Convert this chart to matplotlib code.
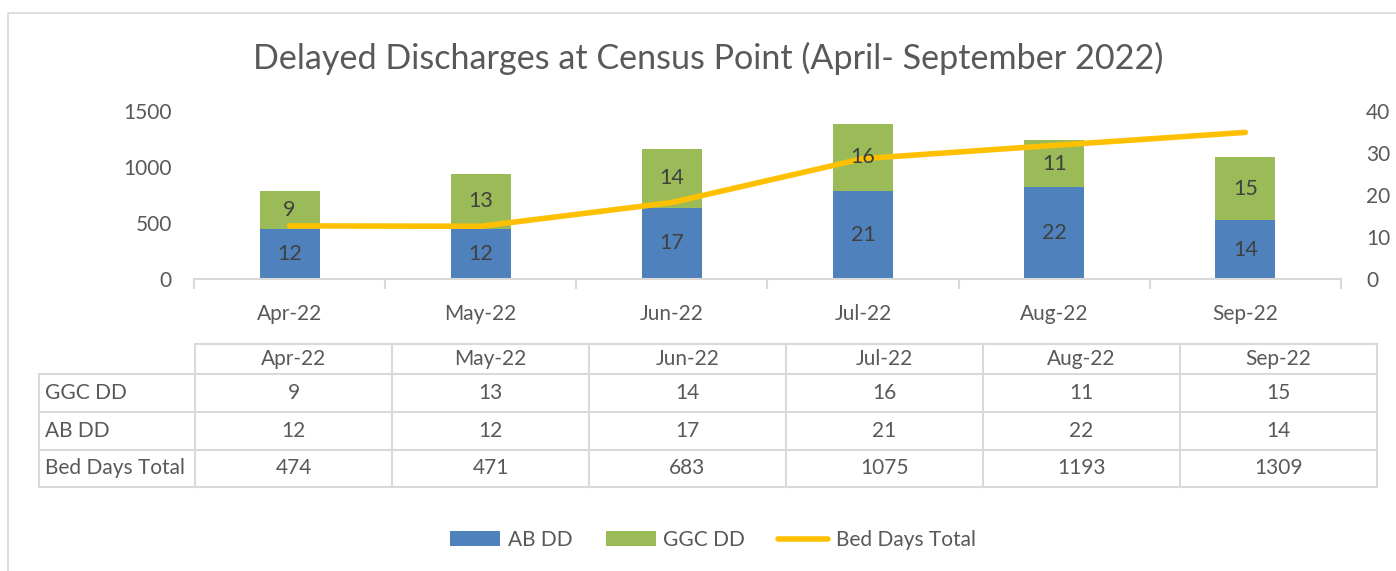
import matplotlib
matplotlib.use("Agg")
import matplotlib.pyplot as plt
from matplotlib.patches import Rectangle, Patch
from matplotlib.lines import Line2D

months = ["Apr-22", "May-22", "Jun-22", "Jul-22", "Aug-22", "Sep-22"]
ggc_dd = [9, 13, 14, 16, 11, 15]
ab_dd = [12, 12, 17, 21, 22, 14]
bed_days = [474, 471, 683, 1075, 1193, 1309]
left_ticks = [0, 500, 1000, 1500]
right_ticks = [0, 10, 20, 30, 40]
title = "Delayed Discharges at Census Point (April- September 2022)"

W, H = 1396, 571
BLUE = "#4F81BD"
GREEN = "#9BBB59"
GOLD = "#FFC000"
TXT = "#595959"
LBL = "#404040"
GRID = "#D9D9D9"
FONT = ["Lato", "DejaVu Sans"]
plt.rcParams['font.family'] = FONT

fig = plt.figure(figsize=(W / 100, H / 100), dpi=100)

def fx(x):
    return x / W

def fy(y):
    return 1 - y / H

PX = 0.72  # points per pixel at 100 dpi

# chart area border
fig.patches.append(Rectangle((fx(8), fy(620)), fx(1500), (620 - 13) / H,
                             transform=fig.transFigure, fill=False,
                             edgecolor=GRID, linewidth=1.2))

ax_l, ax_r, ax_t, ax_b = 194, 1341, 111, 279
ax = fig.add_axes([fx(ax_l), fy(ax_b), fx(ax_r - ax_l), (ax_b - ax_t) / H])
ax2 = ax.twinx()

x = list(range(len(months)))
bw = 0.314
ax.bar(x, ab_dd, width=bw, color=BLUE, zorder=2)
ax.bar(x, ggc_dd, width=bw, bottom=ab_dd, color=GREEN, zorder=2)
ax.set_ylim(0, 40)
ax.set_xlim(-0.5, len(months) - 0.5)

ax2.plot(x, bed_days, color=GOLD, linewidth=4.0, solid_capstyle='round',
         solid_joinstyle='round', zorder=3)
ax2.set_ylim(0, 1500)

# bar value labels above the line
for i in x:
    ax2.text(i, ab_dd[i] / 2, str(ab_dd[i]), transform=ax.transData,
             ha='center', va='center', fontsize=15.5, color=LBL, zorder=5)
    ax2.text(i, ab_dd[i] + ggc_dd[i] / 2, str(ggc_dd[i]), transform=ax.transData,
             ha='center', va='center', fontsize=15.5, color=LBL, zorder=5)

# axes styling
for a in (ax, ax2):
    for s in ("top", "left", "right"):
        a.spines[s].set_visible(False)
    a.spines["bottom"].set_color(GRID)
    a.spines["bottom"].set_linewidth(1.5)
ax2.spines["bottom"].set_visible(False)

ax.yaxis.tick_right()
ax.set_yticks(right_ticks)
ax.tick_params(axis='y', length=0, pad=25 * PX, labelsize=15, labelcolor=TXT)
ax2.yaxis.tick_left()
ax2.set_yticks(left_ticks)
ax2.tick_params(axis='y', length=0, pad=22 * PX, labelsize=15, labelcolor=TXT)

ax.set_xticks([i - 0.5 for i in range(len(months) + 1)])
ax.set_xticklabels([])
ax.tick_params(axis='x', which='major', direction='out', length=7, width=1.5, color=GRID)
ax.set_xticks(x, minor=True)
ax.set_xticklabels(months, minor=True)
ax.tick_params(axis='x', which='minor', length=0, pad=18, labelsize=15, labelcolor=TXT)

# title
fig.text(fx(708), fy(58), title, ha='center', va='center', fontsize=24.6, color=TXT)

# data table
col_l = 195
col_w = 197
row_lab_l = 39
rows_y = [344, 374, 412, 450, 487]
ncol = len(months)
col_r = col_l + col_w * ncol
lw = 1.5

def hline(x0, x1, y):
    fig.lines.append(Line2D([fx(x0), fx(x1)], [fy(y), fy(y)], transform=fig.transFigure,
                            color=GRID, linewidth=lw))

def vline(xp, y0, y1):
    fig.lines.append(Line2D([fx(xp), fx(xp)], [fy(y0), fy(y1)], transform=fig.transFigure,
                            color=GRID, linewidth=lw))

hline(col_l, col_r, rows_y[0])
for y in rows_y[1:]:
    hline(row_lab_l, col_r, y)
vline(row_lab_l, rows_y[1], rows_y[-1])
for j in range(ncol + 1):
    vline(col_l + j * col_w, rows_y[0], rows_y[-1])

row_names = ["GGC DD", "AB DD", "Bed Days Total"]
row_vals = [ggc_dd, ab_dd, bed_days]
for j, m in enumerate(months):
    cx = col_l + (j + 0.5) * col_w
    fig.text(fx(cx), fy((rows_y[0] + rows_y[1]) / 2), m, ha='center', va='center',
             fontsize=15, color=TXT)
for r, (name, vals) in enumerate(zip(row_names, row_vals)):
    cy = (rows_y[r + 1] + rows_y[r + 2]) / 2
    fig.text(fx(row_lab_l + 6), fy(cy), name, ha='left', va='center', fontsize=15, color=TXT)
    for j, v in enumerate(vals):
        cx = col_l + (j + 0.5) * col_w
        fig.text(fx(cx), fy(cy), str(v), ha='center', va='center', fontsize=15, color=TXT)

# legend
handles = [Patch(facecolor=BLUE, edgecolor='none', label="AB DD"),
           Patch(facecolor=GREEN, edgecolor='none', label="GGC DD"),
           Line2D([0], [0], color=GOLD, linewidth=4.0, solid_capstyle='round',
                  label="Bed Days Total")]
leg = fig.legend(handles=handles, loc='center', bbox_to_anchor=(fx(713), fy(540)),
                 ncol=3, frameon=False, fontsize=15, handlelength=2.4,
                 handletextpad=0.35, columnspacing=1.6, labelcolor=TXT)

fig.savefig("out.png", dpi=100)
